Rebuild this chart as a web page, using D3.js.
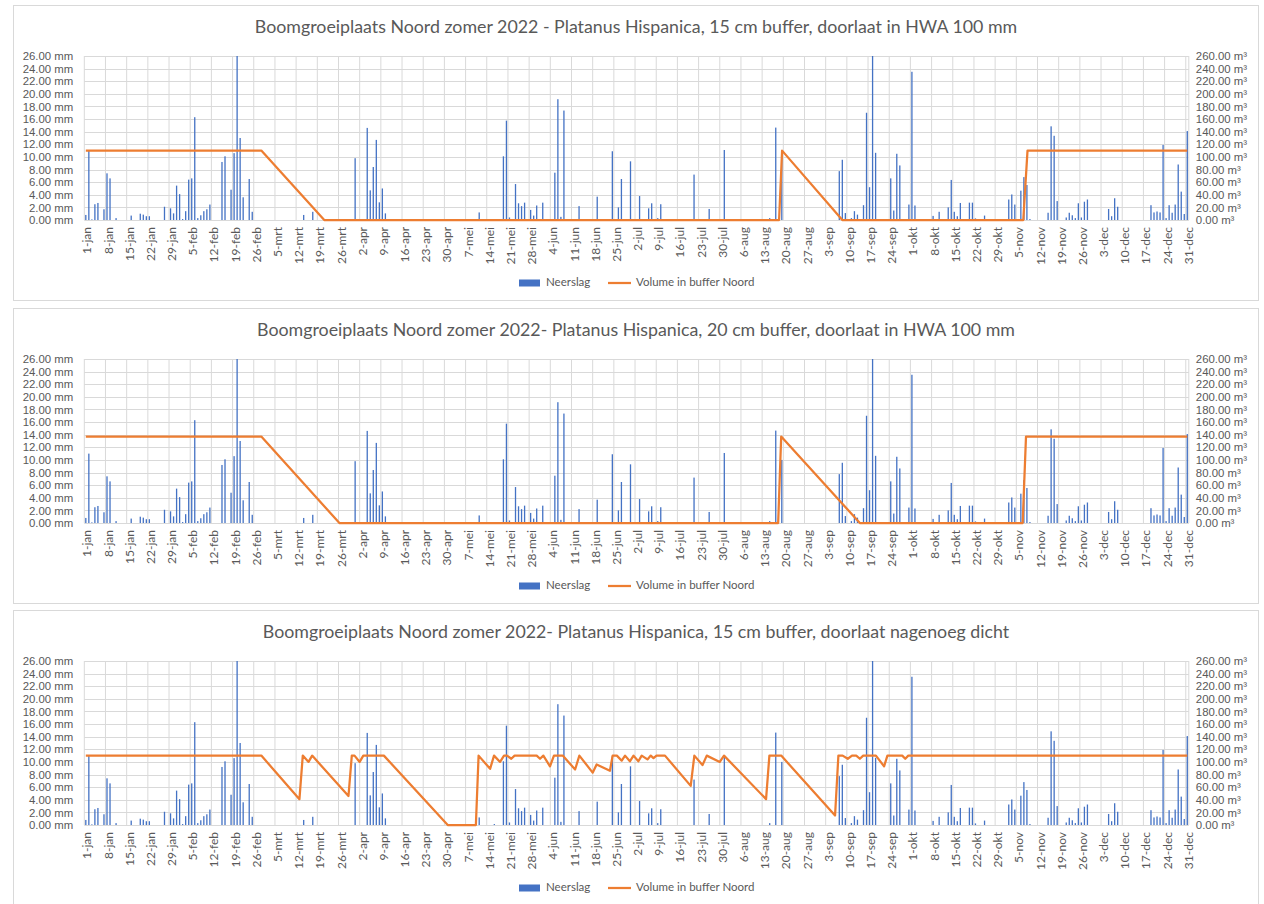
<!DOCTYPE html>
<html>
<head>
<meta charset="utf-8">
<script src="https://cdn.jsdelivr.net/npm/d3@7"></script>
<style>
  body { margin: 0; background: #fff; }
  svg { display: block; font-family: Lato, "Open Sans", sans-serif; }
  .grid line { stroke: #d9d9d9; stroke-width: 1; }
  .lbl { fill: #595959; font-size: 11.4px; }
</style>
</head>
<body>
<svg id="chart" width="1264" height="904"></svg>
<script>
const W = 1264;
const H = 904;

// Dutch short month names for the date ticks
const monthNames = ["jan", "feb", "mrt", "apr", "mei", "jun", "jul", "aug", "sep", "okt", "nov", "dec"];

const titles = [
  "Boomgroeiplaats Noord zomer 2022 - Platanus Hispanica, 15 cm buffer, doorlaat in HWA 100 mm",
  "Boomgroeiplaats Noord zomer 2022- Platanus Hispanica, 20 cm buffer, doorlaat in HWA 100 mm",
  "Boomgroeiplaats Noord zomer 2022- Platanus Hispanica, 15 cm buffer, doorlaat nagenoeg dicht"
];
const legendNames = ["Neerslag", "Volume in buffer Noord"];

// daily rain (day of year index starting at 1-jan = 0, mm); days not listed are dry
const rainDay = [0, 1, 2, 3, 4, 6, 7, 8, 10, 15, 18, 19, 20, 21, 26, 28, 29, 30, 31, 32, 33, 34, 35, 36, 37, 38, 39, 40, 41,
  45, 46, 48, 49, 50, 51, 52, 54, 55, 72, 75, 89, 93, 94, 95, 96, 97, 98, 99, 130, 135, 138, 139, 140, 142, 143, 144, 145,
  147, 148, 149, 151, 155, 156, 157, 158, 163, 169, 174, 176, 177, 180, 183, 186, 187, 189, 190, 201, 206, 211, 226, 228,
  230, 249, 250, 251, 253, 254, 255, 257, 258, 259, 260, 261, 266, 267, 268, 269, 272, 273, 274, 280, 282, 285, 286, 287,
  288, 289, 292, 293, 294, 297, 305, 306, 307, 309, 310, 311, 312, 318, 319, 320, 321, 324, 325, 326, 327, 328, 329, 330,
  331, 338, 339, 340, 341, 352, 353, 354, 355, 356, 357, 358, 359, 360, 361, 362, 363, 364];
const rainMm = [0.8, 11.0, 0.1, 2.5, 2.7, 1.7, 7.4, 6.6, 0.3, 0.7, 1.0, 0.85, 0.6, 0.6, 2.1, 1.85, 1.05, 5.45, 4.1, 0.15, 1.4, 6.4, 6.6, 16.3, 0.3, 0.75, 1.4, 1.7, 2.45,
  9.2, 10.1, 4.8, 10.6, 27.0, 13.0, 3.6, 6.5, 1.3, 0.8, 1.3, 9.8, 14.6, 4.7, 8.4, 12.7, 2.8, 5.0, 1.05, 1.2, 0.15, 10.1, 15.75, 0.4, 5.7, 2.65, 2.2, 2.75,
  1.6, 0.7, 2.3, 2.75, 7.5, 19.15, 0.5, 17.35, 2.2, 3.7, 10.9, 2.0, 6.5, 9.3, 3.8, 1.85, 2.65, 0.3, 2.5, 7.2, 1.75, 11.1, 0.3, 14.65,
  10.0, 7.75, 9.55, 1.1, 0.3, 1.4, 0.85, 2.35, 17.0, 5.2, 27.0, 10.65, 6.6, 1.5, 10.5, 8.65, 2.45, 23.5, 2.3, 0.65, 1.3, 2.0, 6.35, 1.3,
  0.6, 2.7, 2.75, 2.75, 0.25, 0.7, 3.25, 4.05, 2.45, 4.65, 6.8, 5.55, 0.15, 1.15, 14.85, 13.35, 3.0, 0.4, 1.15, 0.75, 0.3, 2.65, 0.4, 2.9,
  3.25, 1.75, 0.6, 3.45, 2.1, 2.35, 1.2, 1.35, 1.2, 11.9, 0.3, 2.35, 1.15, 2.45, 8.8, 4.5, 0.95, 14.1];

// buffer volume (m3), read as corner points [day, volume]
const buffer15 = [[0, 110], [58, 110], [78.8, 0], [229.1, 0], [230.1, 110], [250, 0], [309.8, 0], [311.2, 110], [364, 110]];
const buffer20 = [[0, 137], [58, 137], [83.8, 0], [228.8, 0], [229.8, 137], [255.8, 0], [309.6, 0], [310.7, 137], [364, 137]];
const buffer15Dicht = [[0, 110], [58, 110], [70.6, 41], [71.7, 110], [73.6, 100], [74.8, 110], [86.8, 46], [87.9, 110],
  [88.8, 110], [90.5, 100], [91.7, 110], [98.5, 110], [119.6, 0], [128.9, 0], [129.8, 110], [133.6, 89], [134.9, 110],
  [136.9, 100], [138.2, 110], [139.2, 110], [140.6, 105], [141.7, 110], [149, 110], [150.1, 105], [151.2, 110],
  [153.4, 93], [154.7, 110], [157.6, 110], [161.7, 88], [163.1, 110], [167.5, 83], [168.8, 96], [173.2, 86], [174.1, 110],
  [175.5, 110], [177.1, 102], [178.2, 110], [179.8, 101], [181, 110], [182.6, 101], [183.7, 110], [185.6, 104],
  [186.7, 110], [187.6, 106], [188.6, 110], [191.4, 110], [199.9, 62], [201.1, 110], [203.8, 95], [205.2, 110],
  [209.5, 100], [210.9, 110], [224.8, 41], [225.9, 110], [229.8, 110], [247.6, 15], [248.7, 110], [250.1, 110],
  [251.8, 105], [253.2, 110], [254.6, 110], [255.8, 105], [256.9, 110], [261.1, 110], [263.8, 93], [264.9, 110],
  [269.8, 110], [270.8, 105], [271.8, 110], [364, 110]];
const buffers = [buffer15, buffer20, buffer15Dicht];

const panelTops = [5, 308, 610];
const panelH = 295;
const plotTop = 51;
const plotH = 164;
const left = 84.3;
const right = 1188.8;
const nDays = 365;
const blue = "#4472c4";
const orange = "#ed7d31";

const nl = d3.timeFormatLocale({
  dateTime: "%a %e %B %Y %X", date: "%d-%m-%Y", time: "%H:%M:%S", periods: ["", ""],
  days: ["zondag", "maandag", "dinsdag", "woensdag", "donderdag", "vrijdag", "zaterdag"],
  shortDays: ["zo", "ma", "di", "wo", "do", "vr", "za"],
  months: monthNames, shortMonths: monthNames
});
const fmtDate = nl.format("%-d-%b");
const start = new Date(2022, 0, 1);
const tickDays = d3.range(0, nDays, 7);

const svg = d3.select("#chart");

const x = d3.scaleLinear().domain([0, nDays]).range([left, right]);

panelTops.forEach((top, p) => {
  const g = svg.append("g").attr("transform", `translate(0,${top})`);

  g.append("rect")
    .attr("x", 13.5).attr("y", 0.5)
    .attr("width", 1245).attr("height", panelH)
    .attr("fill", "#fff").attr("stroke", "#d9d9d9");

  const y = d3.scaleLinear().domain([0, 26]).range([plotTop + plotH, plotTop]).clamp(true);
  const yR = d3.scaleLinear().domain([0, 260]).range([plotTop + plotH, plotTop]);

  // gridlines
  const grid = g.append("g").attr("class", "grid");
  grid.selectAll("line.h").data(d3.range(0, 26.1, 2)).join("line")
    .attr("x1", left).attr("x2", right)
    .attr("y1", d => Math.round(y(d)) + 0.5).attr("y2", d => Math.round(y(d)) + 0.5);
  grid.selectAll("line.v").data(tickDays.concat([nDays])).join("line")
    .attr("x1", d => x(d)).attr("x2", d => x(d))
    .attr("y1", plotTop).attr("y2", plotTop + plotH);

  // left axis
  const yAxis = d3.axisLeft(y).tickValues(d3.range(0, 26.1, 2))
    .tickFormat(d => d3.format(".2f")(d) + " mm").tickSize(0).tickPadding(11);
  const ga = g.append("g").attr("transform", `translate(${left},0)`).call(yAxis);
  ga.select(".domain").remove();
  ga.selectAll("text").attr("class", "lbl").attr("font-family", null).attr("font-size", null);

  // right axis
  const yAxisR = d3.axisRight(yR).tickValues(d3.range(0, 260.1, 20))
    .tickFormat(d => d3.format(".2f")(d) + " m³").tickSize(0).tickPadding(7);
  const gr = g.append("g").attr("transform", `translate(${right},0)`).call(yAxisR);
  gr.select(".domain").remove();
  gr.selectAll("text").attr("class", "lbl").attr("font-family", null).attr("font-size", null);

  // date labels
  g.append("g").selectAll("text").data(tickDays).join("text")
    .attr("class", "lbl")
    .attr("transform", d => `translate(${x(d) + 4},${plotTop + plotH + 7}) rotate(-90)`)
    .attr("text-anchor", "end")
    .attr("dominant-baseline", "middle")
    .style("font-size", "12px")
    .text(d => fmtDate(d3.timeDay.offset(start, d)));

  // rain bars
  const bw = 1.3;
  g.append("g").selectAll("rect").data(rainDay).join("rect")
    .attr("x", d => x(d + 0.5) - bw / 2)
    .attr("width", bw)
    .attr("y", (d, i) => y(rainMm[i]))
    .attr("height", (d, i) => y(0) - y(rainMm[i]))
    .attr("fill", blue);

  // buffer volume line
  const line = d3.line().x(d => x(d[0] + 0.5)).y(d => yR(d[1]));
  g.append("path")
    .datum(buffers[p])
    .attr("d", line)
    .attr("fill", "none")
    .attr("stroke", orange)
    .attr("stroke-width", 2.25)
    .attr("stroke-linejoin", "round");

  // title
  g.append("text")
    .attr("x", 636).attr("y", 23)
    .attr("text-anchor", "middle")
    .attr("dominant-baseline", "middle")
    .attr("fill", "#595959")
    .attr("font-size", 17.8)
    .text(titles[p]);

  // legend
  const lg = g.append("g").attr("transform", `translate(0,278)`);
  lg.append("rect").attr("x", 519).attr("y", -3.5).attr("width", 21).attr("height", 7).attr("fill", blue);
  lg.append("text").attr("class", "lbl").attr("x", 546).attr("y", 0)
    .attr("dominant-baseline", "middle").style("font-size", "11.5px").text(legendNames[0]);
  lg.append("line").attr("x1", 608).attr("x2", 631).attr("y1", 0).attr("y2", 0)
    .attr("stroke", orange).attr("stroke-width", 2.25);
  lg.append("text").attr("class", "lbl").attr("x", 636).attr("y", 0)
    .attr("dominant-baseline", "middle").style("font-size", "11.5px").text(legendNames[1]);
});
</script>
</body>
</html>
